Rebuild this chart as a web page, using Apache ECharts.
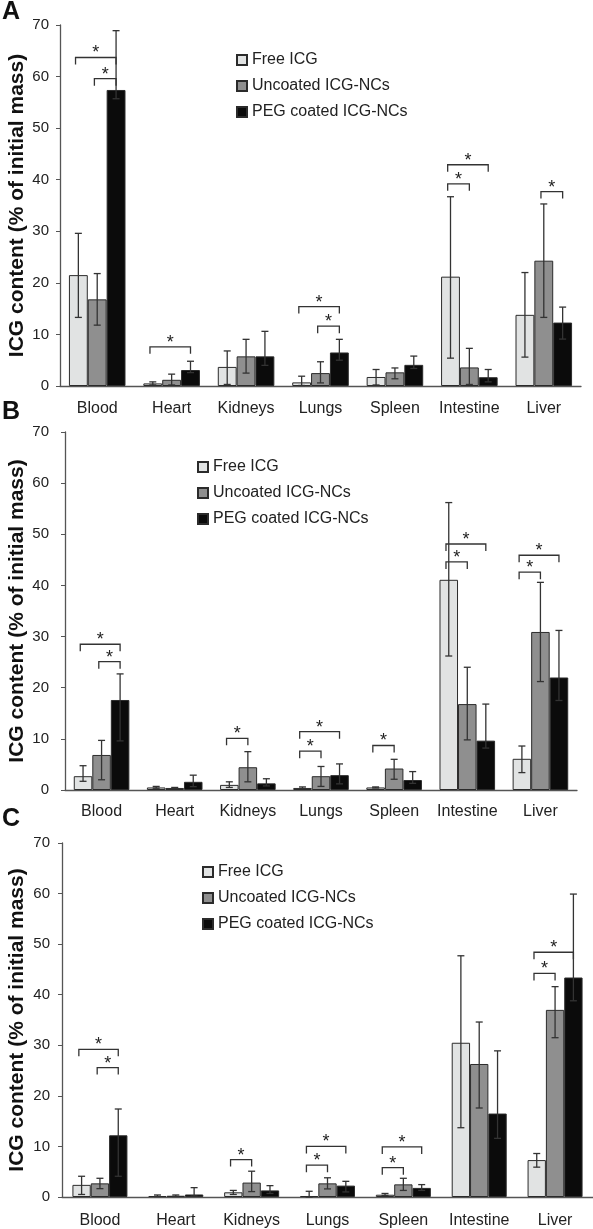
<!DOCTYPE html>
<html><head><meta charset="utf-8">
<script src="https://cdn.jsdelivr.net/npm/echarts@6/dist/echarts.min.js"></script>
<style>html,body{margin:0;padding:0;background:#fff}#c{width:593px;height:1229px}</style>
</head><body><div id="c"></div>
<script>
const categories = ['Blood','Heart','Kidneys','Lungs','Spleen','Intestine','Liver'];
const seriesNames = ['Free ICG','Uncoated ICG-NCs','PEG coated ICG-NCs'];
const yMin = 0, yMax = 70, yStep = 10;

// Panel A: means, lower and upper error-bar ends
const A_free   = [21.5, 0.5, 3.7, 0.7, 1.75, 21.2, 13.8];
const A_freeLo = [13.3, 0.2, 0.3, 0.1, 0.2, 5.4, 5.6];
const A_freeHi = [29.6, 0.8, 6.8, 1.9, 3.2, 36.7, 22.0];
const A_unc    = [16.8, 1.2, 5.75, 2.5, 2.65, 3.6, 24.3];
const A_uncLo  = [11.8, 0.2, 2.5, 0.6, 1.4, 0.3, 13.3];
const A_uncHi  = [21.8, 2.3, 9.05, 4.7, 3.5, 7.3, 35.3];
const A_peg    = [57.4, 3.1, 5.75, 6.5, 4.1, 1.7, 12.3];
const A_pegLo  = [55.7, 2.6, 4.0, 5.0, 3.4, 0.8, 9.1];
const A_pegHi  = [68.9, 4.8, 10.6, 9.05, 5.8, 3.2, 15.3];
// brackets: [category index, from series, to series, bracket height]
const A_brackets = [[0,0,2,63.7],[0,1,2,59.6],[1,0,2,7.6],[3,0,2,15.4],[3,1,2,11.6],[5,0,2,42.9],[5,0,1,39.2],[6,1,2,37.7]];

// Panel B
const B_free   = [2.7, 0.5, 1.0, 0.4, 0.5, 41.1, 6.1];
const B_freeLo = [1.7, 0.35, 0.5, 0.3, 0.4, 26.2, 3.4];
const B_freeHi = [4.75, 0.7, 1.6, 0.6, 0.6, 56.2, 8.6];
const B_unc    = [6.85, 0.4, 4.45, 2.7, 4.2, 16.8, 30.9];
const B_uncLo  = [2.0, 0.3, 1.6, 0.7, 2.1, 9.8, 21.2];
const B_uncHi  = [9.7, 0.5, 7.5, 4.6, 6.0, 24.0, 40.6];
const B_peg    = [17.6, 1.6, 1.3, 2.9, 1.95, 9.65, 22.0];
const B_pegLo  = [9.6, 0.65, 0.8, 1.2, 1.3, 8.2, 17.5];
const B_pegHi  = [22.7, 2.9, 2.2, 5.1, 3.6, 16.8, 31.2];
const B_brackets = [[0,0,2,28.5],[0,1,2,25.1],[2,0,1,10.1],[3,0,2,11.4],[3,0,1,7.6],[4,0,1,8.7],[5,0,2,48.1],[5,0,1,44.6],[6,0,2,45.9],[6,0,1,42.6]];

// Panel C
const C_free   = [2.4, 0.2, 0.93, 0.2, 0.45, 30.5, 7.3];
const C_freeLo = [0.5, 0.1, 0.5, 0.0, 0.3, 13.7, 5.9];
const C_freeHi = [4.1, 0.4, 1.3, 1.13, 0.7, 47.7, 8.6];
const C_unc    = [2.7, 0.25, 2.85, 2.7, 2.5, 26.3, 37.0];
const C_uncLo  = [1.65, 0.1, 1.07, 1.6, 1.3, 17.6, 31.5];
const C_uncHi  = [3.7, 0.4, 5.1, 3.8, 3.7, 34.6, 41.6];
const C_peg    = [12.2, 0.5, 1.3, 2.25, 1.8, 16.5, 43.4];
const C_pegLo  = [4.1, 0.2, 0.7, 1.0, 1.3, 11.6, 38.8];
const C_pegHi  = [17.4, 1.85, 2.25, 3.1, 2.45, 28.9, 59.9];
const C_brackets = [[0,0,2,29.2],[0,1,2,25.6],[2,0,1,7.4],[3,0,2,10.0],[3,0,1,6.3],[4,0,2,9.9],[4,0,1,5.8],[6,0,2,48.4],[6,0,1,44.2]];

const yTitle = 'ICG content (% of initial mass)';
const FONT = '"Liberation Sans", Arial, sans-serif';
const barColors = ['#e1e3e3', '#8f8f8f', '#0b0b0b'];

const panels = [
  {letter:'A', vals:[A_free,A_unc,A_peg], lo:[A_freeLo,A_uncLo,A_pegLo], hi:[A_freeHi,A_uncHi,A_pegHi], br:A_brackets,
   grid:{left:60, top:25, width:521, height:361}, gap:0.24, xm:15, ym:11, legend:{left:231, top:47}, letterY:20, titleX:17},
  {letter:'B', vals:[B_free,B_unc,B_peg], lo:[B_freeLo,B_uncLo,B_pegLo], hi:[B_freeHi,B_uncHi,B_pegHi], br:B_brackets,
   grid:{left:65, top:432, width:512, height:358}, gap:0.24, xm:14, ym:16, legend:{left:192, top:454}, letterY:420, titleX:17},
  {letter:'C', vals:[C_free,C_unc,C_peg], lo:[C_freeLo,C_uncLo,C_pegLo], hi:[C_freeHi,C_uncHi,C_pegHi], br:C_brackets,
   grid:{left:62, top:843, width:541, height:354}, gap:0.275, xm:16, ym:12, legend:{left:197, top:859}, letterY:827, titleX:17}
];

function errRender(g) {
  return function (params, api) {
    const ci = api.value(0), s = api.value(3);
    const band = api.size([1, 0])[0];
    const bw = band * (1 - g) / 3;
    const p1 = api.coord([ci, api.value(1)]);
    const p2 = api.coord([ci, api.value(2)]);
    const x = p1[0] + (s - 1) * bw;
    const cap = 3.5;
    const st = {stroke:'#333', lineWidth:1.3};
    return {type:'group', children:[
      {type:'line', shape:{x1:x, y1:p1[1], x2:x, y2:p2[1]}, style:st},
      {type:'line', shape:{x1:x-cap, y1:p2[1], x2:x+cap, y2:p2[1]}, style:st},
      {type:'line', shape:{x1:x-cap, y1:p1[1], x2:x+cap, y2:p1[1]}, style:st}
    ]};
  };
}
function bracketRender(g) {
  return function (params, api) {
    const ci = api.value(0), f = api.value(1), t = api.value(2);
    const band = api.size([1, 0])[0];
    const bw = band * (1 - g) / 3;
    const p = api.coord([ci, api.value(3)]);
    const xl = p[0] + (f - 1) * bw - 0.15 * bw;
    const xr = p[0] + (t - 1) * bw;
    const y = p[1], d = 7;
    return {type:'group', children:[
      {type:'polyline', shape:{points:[[xl, y + d],[xl, y],[xr, y],[xr, y + d]]}, style:{stroke:'#333', lineWidth:1.3, fill:null}},
      {type:'text', x:(xl + xr) / 2, y:y - 4, style:{text:'*', fontSize:18, fontFamily:FONT, fill:'#222', align:'center', verticalAlign:'middle'}}
    ]};
  };
}

const grid = [], xAxis = [], yAxis = [], series = [], legend = [], graphic = [];
panels.forEach((p, pi) => {
  grid.push(Object.assign({containLabel:false}, p.grid));
  xAxis.push({type:'category', gridIndex:pi, data:categories,
    axisLine:{lineStyle:{color:'#555', width:1.3}}, axisTick:{show:false},
    axisLabel:{fontSize:16, color:'#222', fontFamily:FONT, margin:p.xm, interval:0}});
  yAxis.push({type:'value', gridIndex:pi, min:yMin, max:yMax, interval:yStep,
    axisLine:{show:true, lineStyle:{color:'#555', width:1.3}}, axisTick:{show:true, length:4, lineStyle:{color:'#555'}},
    splitLine:{show:false}, axisLabel:{fontSize:15, color:'#222', fontFamily:FONT, margin:p.ym}});
  for (let s = 0; s < 3; s++) {
    series.push({type:'bar', name:seriesNames[s], xAxisIndex:pi, yAxisIndex:pi, data:p.vals[s],
      barGap:'0%', barCategoryGap:(p.gap * 100) + '%', silent:true,
      itemStyle:{color:barColors[s], borderColor:'#2b2b2b', borderWidth:1}});
  }
  for (let s = 0; s < 3; s++) {
    series.push({type:'custom', xAxisIndex:pi, yAxisIndex:pi, z:5, silent:true,
      data:categories.map((c, i) => [i, p.lo[s][i], p.hi[s][i], s]),
      encode:{x:0, y:[1, 2]}, renderItem:errRender(p.gap)});
  }
  series.push({type:'custom', xAxisIndex:pi, yAxisIndex:pi, z:6, silent:true,
    data:p.br, encode:{x:0, y:3}, renderItem:bracketRender(p.gap)});
  legend.push({data:seriesNames, orient:'vertical', left:p.legend.left, top:p.legend.top,
    icon:'rect', itemWidth:10, itemHeight:10, itemGap:10, selectedMode:false,
    textStyle:{fontSize:16, color:'#222', fontFamily:FONT, lineHeight:16}});
  graphic.push({type:'text', left:2, top:p.letterY - 20, style:{text:p.letter, font:'bold 25px ' + FONT, fill:'#111'}});
  graphic.push({type:'text', x:p.titleX, y:p.grid.top + p.grid.height / 2, rotation:Math.PI / 2,
    style:{text:yTitle, font:'bold 21px ' + FONT, fill:'#111', align:'center', verticalAlign:'middle'}});
});

const chart = echarts.init(document.getElementById('c'), null, {renderer:'canvas'});
chart.setOption({animation:false, backgroundColor:'#fff', grid, xAxis, yAxis, series, legend, graphic});
</script></body></html>
